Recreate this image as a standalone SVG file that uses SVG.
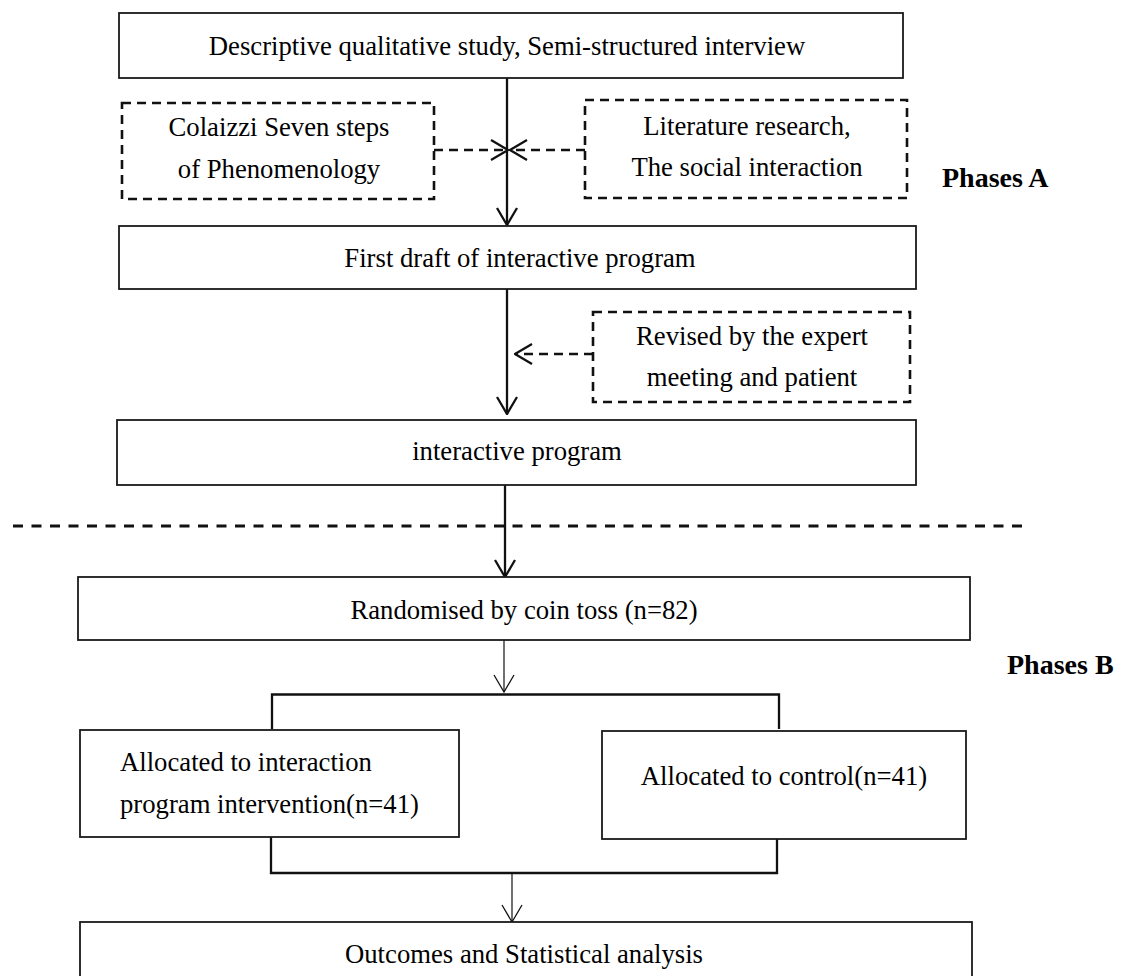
<svg xmlns="http://www.w3.org/2000/svg" width="1121" height="976" viewBox="0 0 1121 976">
<style>
  .box { fill: #ffffff; stroke: #1a1a1a; stroke-width: 1.8; }
  .dbox { fill: #ffffff; stroke: #111111; stroke-width: 2.6; stroke-dasharray: 9 6; }
  .t { font-family: "Liberation Serif", "Times New Roman", serif; font-size: 26.7px; fill: #000000; }
  .c { text-anchor: middle; }
  .ph { font-family: "Liberation Serif", "Times New Roman", serif; font-size: 28px; font-weight: bold; fill: #000000; }
  .ln { fill: none; stroke: #111111; stroke-width: 2.3; }
  .thin { fill: none; stroke: #111111; stroke-width: 1.2; }
  .dln { fill: none; stroke: #111111; stroke-width: 2.6; stroke-dasharray: 9 6; }
  .sep { fill: none; stroke: #111111; stroke-width: 2.8; stroke-dasharray: 10 8.5; }
</style>
<defs>
  <marker id="arr" markerUnits="userSpaceOnUse" viewBox="0 0 20 22" refX="19" refY="11" markerWidth="20" markerHeight="22" orient="auto">
    <path d="M2,1 L19,11 L2,21" fill="none" stroke="#111111" stroke-width="2.3"/>
  </marker>
  <marker id="arrThin" markerUnits="userSpaceOnUse" viewBox="0 0 20 22" refX="19" refY="11" markerWidth="20" markerHeight="22" orient="auto">
    <path d="M2,1 L19,11 L2,21" fill="none" stroke="#111111" stroke-width="1.3"/>
  </marker>
</defs>
<rect width="1121" height="976" fill="#ffffff"/>

<g id="connectors">
  <line class="ln" x1="507" y1="78" x2="507" y2="225" marker-end="url(#arr)"/>
  <line class="dln" x1="434" y1="150" x2="508" y2="150" marker-end="url(#arr)"/>
  <line class="dln" x1="585" y1="150" x2="510" y2="150" marker-end="url(#arr)"/>
  <line class="ln" x1="507" y1="289" x2="507" y2="414" marker-end="url(#arr)"/>
  <line class="dln" x1="593" y1="354" x2="515" y2="354" marker-end="url(#arr)"/>
  <line class="ln" x1="505" y1="485" x2="505" y2="577" marker-end="url(#arr)"/>
  <line class="thin" x1="504" y1="640" x2="504" y2="692" marker-end="url(#arrThin)"/>
  <path class="ln" d="M272,729 V694.5 H779 V729"/>
  <path class="ln" d="M271,837 V873 H777 V839"/>
  <line class="thin" x1="512" y1="873" x2="512" y2="922" marker-end="url(#arrThin)"/>
</g>

<g id="separator">
  <line class="sep" x1="13" y1="526" x2="1030" y2="526"/>
</g>

<g id="node-descriptive">
  <rect class="box" x="119" y="13" width="784" height="65"/>
  <text class="t c" x="507" y="55">Descriptive qualitative study, Semi-structured interview</text>
</g>

<g id="node-colaizzi">
  <rect class="dbox" x="122" y="103" width="312" height="96"/>
  <text class="t c" x="279" y="136">Colaizzi Seven steps</text>
  <text class="t c" x="279" y="178">of Phenomenology</text>
</g>

<g id="node-literature">
  <rect class="dbox" x="585" y="100" width="322" height="98"/>
  <text class="t c" x="747" y="135">Literature research,</text>
  <text class="t c" x="747" y="176">The social interaction</text>
</g>

<g id="node-firstdraft">
  <rect class="box" x="119" y="226" width="797" height="63"/>
  <text class="t c" x="520" y="267">First draft of interactive program</text>
</g>

<g id="node-revised">
  <rect class="dbox" x="593" y="312" width="317" height="90"/>
  <text class="t c" x="752" y="345">Revised by the expert</text>
  <text class="t c" x="752" y="386">meeting and patient</text>
</g>

<g id="node-interactive">
  <rect class="box" x="117" y="420" width="799" height="65"/>
  <text class="t c" x="517" y="460">interactive program</text>
</g>

<g id="node-randomised">
  <rect class="box" x="78" y="577" width="892" height="63"/>
  <text class="t c" x="524" y="619">Randomised by coin toss (n=82)</text>
</g>

<g id="node-intervention">
  <rect class="box" x="80" y="730" width="379" height="107"/>
  <text class="t" x="120" y="771">Allocated to interaction</text>
  <text class="t" x="120" y="813">program intervention(n=41)</text>
</g>

<g id="node-control">
  <rect class="box" x="602" y="731" width="364" height="108"/>
  <text class="t c" x="784" y="785">Allocated to control(n=41)</text>
</g>

<g id="node-outcomes">
  <rect class="box" x="80" y="922" width="892" height="80"/>
  <text class="t c" x="524" y="963">Outcomes and Statistical analysis</text>
</g>

<g id="labels">
  <text class="ph" x="942" y="187">Phases A</text>
  <text class="ph" x="1007" y="674">Phases B</text>
</g>
</svg>
